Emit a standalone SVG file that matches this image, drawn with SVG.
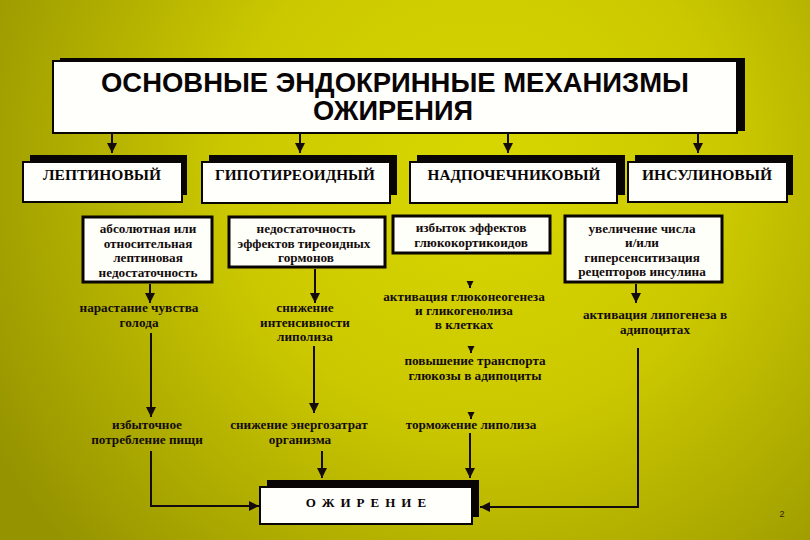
<svg xmlns="http://www.w3.org/2000/svg" width="810" height="540" viewBox="0 0 810 540">
<defs>
<radialGradient id="bg" gradientUnits="userSpaceOnUse" cx="480" cy="170" r="560">
<stop offset="0" stop-color="#d9d700"/>
<stop offset="0.45" stop-color="#cbc800"/>
<stop offset="1" stop-color="#959300"/>
</radialGradient>
<marker id="ah" viewBox="0 0 10 10" refX="10" refY="5" markerWidth="10" markerHeight="10" markerUnits="userSpaceOnUse" orient="auto">
<path d="M0,0 L10,5 L0,10 Z" fill="#140c0c"/>
</marker>
<marker id="ahs" viewBox="0 0 10 10" refX="10" refY="5" markerWidth="7" markerHeight="8" markerUnits="userSpaceOnUse" orient="auto">
<path d="M0,0 L10,5 L0,10 Z" fill="#140c0c"/>
</marker>
</defs>
<style>
.shadow{fill:#0a0505}
.box{fill:#fffffc;stroke:#0a0505;stroke-width:2}
.box2{fill:#fffffa;stroke:#0a0505;stroke-width:3}
.title{font-family:"Liberation Sans","DejaVu Sans",sans-serif;font-weight:bold;font-size:28px;fill:#0a0505;text-anchor:middle}
.cat{font-family:"Liberation Serif","DejaVu Serif",serif;font-weight:bold;font-size:14px;fill:#0a0505;text-anchor:middle}
.t{font-family:"Liberation Serif","DejaVu Serif",serif;font-weight:bold;font-size:13.2px;fill:#140c0c;text-anchor:middle}
.ob{font-family:"Liberation Serif","DejaVu Serif",serif;font-weight:bold;font-size:13px;fill:#0a0505;text-anchor:middle;letter-spacing:6px}
.c{fill:none;stroke:#140c0c;stroke-width:2}
</style>
<rect width="810" height="540" fill="url(#bg)"/>

<g id="title">
<rect class="shadow" x="60" y="58" width="685" height="73"/>
<rect class="box" x="53" y="61" width="684" height="72"/>
<text class="title" x="395" y="92" textLength="588" lengthAdjust="spacingAndGlyphs">ОСНОВНЫЕ  ЭНДОКРИННЫЕ  МЕХАНИЗМЫ</text>
<text class="title" x="393" y="120" textLength="160" lengthAdjust="spacingAndGlyphs">ОЖИРЕНИЯ</text>
</g>

<g id="leptin">
<rect class="shadow" x="30" y="155" width="157" height="40"/>
<rect class="box" x="23" y="162" width="159" height="40"/>
<text class="cat" x="102" y="180" textLength="118" lengthAdjust="spacingAndGlyphs">ЛЕПТИНОВЫЙ</text>
</g>
<g id="hypothyroid">
<rect class="shadow" x="209" y="155" width="188" height="40"/>
<rect class="box" x="202" y="162" width="188" height="41"/>
<text class="cat" x="295" y="180" textLength="160" lengthAdjust="spacingAndGlyphs">ГИПОТИРЕОИДНЫЙ</text>
</g>
<g id="adrenal">
<rect class="shadow" x="417" y="155" width="208" height="40"/>
<rect class="box" x="410" y="162" width="207" height="41"/>
<text class="cat" x="514" y="180" textLength="173" lengthAdjust="spacingAndGlyphs">НАДПОЧЕЧНИКОВЫЙ</text>
</g>
<g id="insulin">
<rect class="shadow" x="635" y="155" width="158" height="40"/>
<rect class="box" x="628" y="162" width="159" height="40"/>
<text class="cat" x="707" y="180" textLength="130" lengthAdjust="spacingAndGlyphs">ИНСУЛИНОВЫЙ</text>
</g>

<g id="b1">
<rect class="box2" x="83" y="217" width="129" height="65"/>
<text class="t" x="148" y="233">абсолютная или</text>
<text class="t" x="148" y="248">относительная</text>
<text class="t" x="148" y="262">лептиновая</text>
<text class="t" x="148" y="277">недостаточность</text>
</g>
<g id="b2">
<rect class="box2" x="229" y="217" width="156" height="50"/>
<text class="t" x="306" y="233">недостаточность</text>
<text class="t" x="304" y="248">эффектов тиреоидных</text>
<text class="t" x="306" y="262">гормонов</text>
</g>
<g id="b3">
<rect class="box2" x="393" y="216" width="157" height="37"/>
<text class="t" x="471" y="232">избыток эффектов</text>
<text class="t" x="471" y="247">глюкокортикоидов</text>
</g>
<g id="b4">
<rect class="box2" x="565" y="216" width="157" height="66"/>
<text class="t" x="642" y="233">увеличение числа</text>
<text class="t" x="642" y="247">и/или</text>
<text class="t" x="642" y="262">гиперсенситизация</text>
<text class="t" x="642" y="276">рецепторов инсулина</text>
</g>

<g id="hunger">
<text class="t" x="139" y="312">нарастание чувства</text>
<text class="t" x="139" y="327">голода</text>
</g>
<g id="lipolysis-down">
<text class="t" x="305" y="312">снижение</text>
<text class="t" x="305" y="327">интенсивности</text>
<text class="t" x="305" y="341">липолиза</text>
</g>
<g id="gluconeo">
<text class="t" x="464" y="301">активация глюконеогенеза</text>
<text class="t" x="464" y="315">и гликогенолиза</text>
<text class="t" x="464" y="329">в клетках</text>
</g>
<g id="lipogenesis">
<text class="t" x="655" y="319">активация липогенеза в</text>
<text class="t" x="655" y="334">адипоцитах</text>
</g>
<g id="transport">
<text class="t" x="475" y="365">повышение транспорта</text>
<text class="t" x="475" y="380">глюкозы в адипоциты</text>
</g>
<g id="overeat">
<text class="t" x="147" y="429">избыточное</text>
<text class="t" x="147" y="444">потребление пищи</text>
</g>
<g id="energy">
<text class="t" x="299" y="429">снижение энергозатрат</text>
<text class="t" x="300" y="444">организма</text>
</g>
<g id="lipolysis-inhib">
<text class="t" x="471" y="429">торможение липолиза</text>
</g>

<g id="obesity">
<rect class="shadow" x="267" y="480" width="212" height="37"/>
<rect class="box" x="260" y="487" width="212" height="37"/>
<text class="ob" x="369" y="507">ОЖИРЕНИЕ</text>
</g>

<text x="782" y="517" font-family="Liberation Sans, sans-serif" font-size="9" fill="#2a2000" text-anchor="middle">2</text>

<g id="connectors">
<line class="c" x1="112" y1="133" x2="112" y2="153" marker-end="url(#ah)"/>
<line class="c" x1="300" y1="133" x2="300" y2="153" marker-end="url(#ah)"/>
<line class="c" x1="508" y1="133" x2="508" y2="153" marker-end="url(#ah)"/>
<line class="c" x1="698" y1="133" x2="698" y2="153" marker-end="url(#ah)"/>
<line class="c" x1="150" y1="284" x2="150" y2="303" marker-end="url(#ah)"/>
<line class="c" x1="315" y1="269" x2="315" y2="303" marker-end="url(#ah)"/>
<line class="c" x1="636" y1="284" x2="636" y2="303" marker-end="url(#ah)"/>
<line class="c" x1="470" y1="281" x2="470" y2="288" marker-end="url(#ahs)"/>
<line class="c" x1="471" y1="346" x2="471" y2="353" marker-end="url(#ahs)"/>
<line class="c" x1="471" y1="412" x2="471" y2="419" marker-end="url(#ahs)"/>
<line class="c" x1="151" y1="333" x2="151" y2="417" marker-end="url(#ah)"/>
<line class="c" x1="314" y1="346" x2="314" y2="413" marker-end="url(#ah)"/>
<polyline class="c" points="151,451 151,506 259,506" marker-end="url(#ah)"/>
<line class="c" x1="322" y1="451" x2="322" y2="478" marker-end="url(#ah)"/>
<line class="c" x1="470" y1="433" x2="470" y2="478" marker-end="url(#ah)"/>
<polyline class="c" points="638,348 638,507 480,507" marker-end="url(#ah)"/>
</g>
</svg>
